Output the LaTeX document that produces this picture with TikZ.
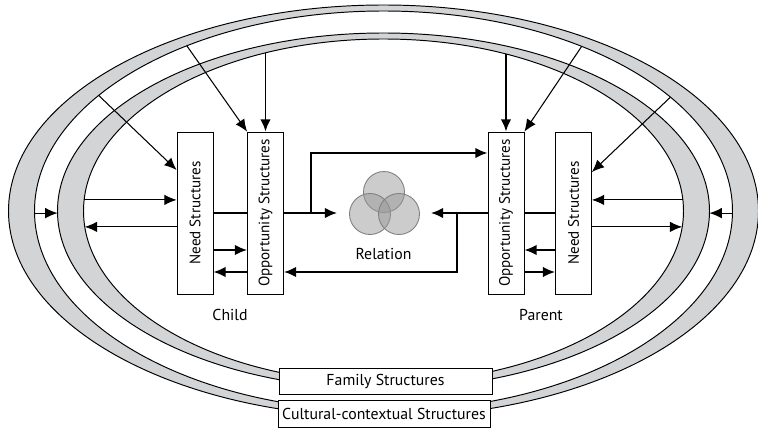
\documentclass[tikz,border=0pt]{standalone}
\usepackage{fontspec}
\setmainfont{PT Sans}
\usepackage{graphicx}
\usetikzlibrary{arrows.meta,calc}
\definecolor{bandgray}{RGB}{211,212,214}
\tikzset{
  sbox/.style={draw, fill=white, line width=0.45pt, inner sep=0pt, minimum width=0.72cm, minimum height=3.24cm, font=\fontsize{8.6}{10}\selectfont},
  lbox/.style={draw, fill=white, line width=0.45pt, inner sep=0pt, minimum height=0.53cm},
  arr/.style={-{Latex[length=7pt,width=6pt]}, line width=0.6pt},
  marr/.style={arr, line width=0.9pt},
  tarr/.style={arr, line width=1.1pt},
}
\begin{document}
\begin{tikzpicture}[x=0.02cm,y=0.02cm,font=\fontsize{9}{11}\selectfont]
\useasboundingbox (0,0) rectangle (758,430);
\coordinate (C) at (383.5,219);
% the two structure bands
\foreach \ro/\ri/\ho/\hi in {375/349/206/200,326/300/178/172}{
  \fill[bandgray,even odd rule] (C) ellipse [x radius=\ro,y radius=\ho] (C) ellipse [x radius=\ri,y radius=\hi];
  \draw[line width=0.55pt] (C) ellipse [x radius=\ro,y radius=\ho] (C) ellipse [x radius=\ri,y radius=\hi];
}
\path (C) ++(144.7:349 and 200) coordinate (cu1)
      (C) ++(124.3:349 and 200) coordinate (cu2)
      (C) ++(55.4:349 and 200) coordinate (cu3)
      (C) ++(34.7:349 and 200) coordinate (cu4)
      (C) ++(180.6:349 and 200) coordinate (cuL)
      (C) ++(-0.6:349 and 200) coordinate (cuR)
      (C) ++(180.6:326 and 178) coordinate (faL)
      (C) ++(-0.6:326 and 178) coordinate (faR)
      (C) ++(113.2:300 and 172) coordinate (fi1)
      (C) ++(65.9:300 and 172) coordinate (fi2)
      (C) ++(176.3:300 and 172) coordinate (fi3)
      (C) ++(185.3:300 and 172) coordinate (fi4)
      (C) ++(3.7:300 and 172) coordinate (fi5)
      (C) ++(-5.3:300 and 172) coordinate (fi6);
% boxes
\node[sbox] (childNeed) at (195,217) {\rotatebox{90}{Need Structures}};
\node[sbox] (childOpp) at (265.5,217) {\rotatebox{90}{Opportunity Structures}};
\node[sbox] (parentOpp) at (506,217) {\rotatebox{90}{Opportunity Structures}};
\node[sbox] (parentNeed) at (573.5,217) {\rotatebox{90}{Need Structures}};
\node[lbox, minimum width=4.26cm] (family) at (385.5,48.5) {Family Structures};
\node[lbox, minimum width=4.24cm] (culture) at (384,16) {Cultural-contextual Structures};
% relation
\node[inner sep=0pt, minimum width=1.86cm, minimum height=1cm] (rel) at (384,217) {};
\foreach \x/\y in {384/238,370/216,399/216}
  \filldraw[fill=black!40, fill opacity=0.5, draw=black!50, line width=0.5pt] (\x,\y) circle (20.5);
\node (relLabel) at (383.5,176) {Relation};
\node (child) at (230,115) {Child};
\node (parent) at (541,115) {Parent};
% child side
\draw[arr] (cu1) -- ($(childNeed.west)+(0,43)$);
\draw[arr] (cu2) -- (childOpp.north west);
\draw[tarr] (childOpp.north |- fi1) -- (childOpp.north);
\draw[arr] (fi3) -- (fi3 -| childNeed.west);
\draw[arr] (fi4 -| childNeed.west) -- (fi4);
\draw[arr] (cuL) -- (cuL -| faL);
% parent side
\draw[arr] (cu3) -- (parentOpp.north east);
\draw[arr] (cu4) -- ($(parentNeed.east)+(0,41)$);
\draw[tarr] (parentOpp.north |- fi2) -- (parentOpp.north);
\draw[arr] (fi5) -- (fi5 -| parentNeed.east);
\draw[arr] (fi6 -| parentNeed.east) -- (fi6);
\draw[arr] (cuR) -- (cuR -| faR);
% to and from the relation
\coordinate (jc) at (311,217);
\coordinate (jp) at (457,217);
\draw[line width=0.6pt] (childNeed.east) -- (childOpp.west);
\draw[tarr] (childOpp.east) -- (rel.west);
\draw[tarr] (jc) |- ($(parentOpp.west)+(0,60)$);
\draw[line width=0.6pt] (parentNeed.west) -- (parentOpp.east);
\draw[tarr] (parentOpp.west) -- (rel.east);
\draw[tarr] (jp) |- ($(childOpp.east)+(0,-59)$);
% need and opportunity
\draw[marr] ($(childNeed.east)+(0,-37)$) -- ($(childOpp.west)+(0,-37)$);
\draw[marr] ($(childOpp.west)+(0,-59)$) -- ($(childNeed.east)+(0,-59)$);
\draw[marr] ($(parentNeed.west)+(0,-37)$) -- ($(parentOpp.east)+(0,-37)$);
\draw[marr] ($(parentOpp.east)+(0,-59)$) -- ($(parentNeed.west)+(0,-59)$);
\end{tikzpicture}
\end{document}
